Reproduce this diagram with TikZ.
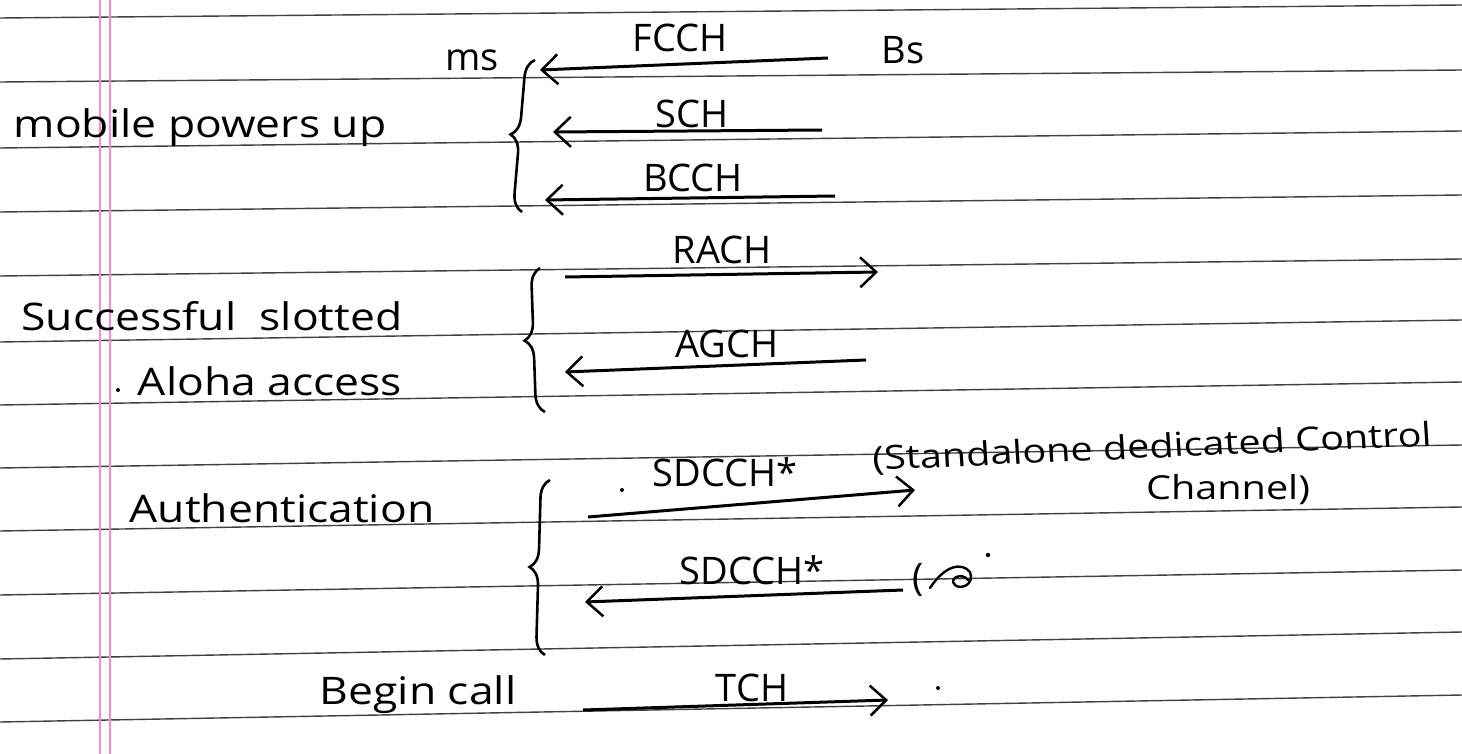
\documentclass[tikz,border=0pt]{standalone}
\usepackage{fontspec}
\setmainfont{Open Sans}
\usetikzlibrary{arrows.meta,decorations.pathreplacing}
\begin{document}
\begin{tikzpicture}[x=1pt,y=-1pt,
  hand/.style={inner sep=0pt, font=\fontsize{38}{42}\selectfont},
  wide/.style={inner sep=0pt, font=\fontsize{38}{42}\selectfont, xscale=1.17},
  small/.style={inner sep=0pt, font=\fontsize{33}{36}\selectfont, xscale=1.2},
  rule/.style={black!75, line width=1.4pt},
  margin/.style={magenta!45, line width=1.3pt},
  sig/.style={line width=3pt, -{Straight Barb[length=16pt,width=30pt,line width=2.5pt]}},
  pen/.style={line width=2.4pt, line cap=round},
  brc/.style={line width=2.6pt, decorate, decoration={brace, amplitude=18pt}}]
\useasboundingbox (0,0) rectangle (1462,754);
\fill[white] (0,0) rectangle (1462,754);
% notebook ruling
\foreach \l/\r in {18/5,82/70,148/131,212/195,276/259,342/320,405/382,468/445,531/507,595/570,659/632,722/695}
  \draw[rule] (0,\l) -- (1462,\r);
\draw[margin] (100,0) -- (100,754);
\draw[margin] (110,0) -- (110,754);
% labels
\node[hand] (ms) at (472,60) {ms};
\node[hand] (bs) at (903,50) {Bs};
\node[hand] (fcch) at (680,38) {FCCH};
\node[hand] (sch) at (692,114) {SCH};
\node[hand] (bcch) at (693,178) {BCCH};
\node[hand] (rach) at (722,250) {RACH};
\node[hand] (agch) at (727,344) {AGCH};
\node[hand] (sd1) at (725,472) {SDCCH*};
\node[hand] (sd2) at (752,570) {SDCCH*};
\node[hand] (tch) at (752,688) {TCH};
\node[wide] (mob) at (200,128) {mobile powers up};
\node[wide] (succ) at (212,316) {Successful\ \ slotted};
\node[wide] (aloha) at (270,381) {Aloha access};
\node[wide] (auth) at (282,508) {Authentication};
\node[wide] (begin) at (418,695) {Begin call};
\node[small, rotate=3] (sacc) at (1152,448) {(Standalone dedicated Control};
\node[small] (chan) at (1228,490) {Channel)};
\node[hand] (par) at (918,580) {(};
% crossed-out letter
\draw[pen] (930,588) .. controls (945,565) and (962,562) .. (970,572)
           .. controls (975,585) and (960,590) .. (955,585)
           .. controls (948,578) and (962,572) .. (968,580);
\fill (988,555) circle (2.2pt);
% stray pen dots
\fill (622,490) circle (2pt);
\fill (118,390) circle (2pt);
\fill (938,688) circle (2pt);
% signal arrows
\coordinate (f1) at (828,58);  \coordinate (f2) at (540,70);
\coordinate (s1) at (822,130); \coordinate (s2) at (553,132);
\coordinate (b1) at (835,196); \coordinate (b2) at (545,200);
\coordinate (r1) at (565,277); \coordinate (r2) at (878,272);
\coordinate (a1) at (866,360); \coordinate (a2) at (565,372);
\coordinate (d1) at (588,517); \coordinate (d2) at (915,490);
\coordinate (e1) at (903,590); \coordinate (e2) at (585,602);
\coordinate (t1) at (583,710); \coordinate (t2) at (888,700);
\draw[sig] (f1) -- (f2);
\draw[sig] (s1) -- (s2);
\draw[sig] (b1) -- (b2);
\draw[sig] (r1) -- (r2);
\draw[sig] (a1) -- (a2);
\draw[sig] (d1) -- (d2);
\draw[sig] (e1) -- (e2);
\draw[sig] (t1) -- (t2);
% braces
\coordinate (k1t) at (535,60);  \coordinate (k1b) at (522,212);
\coordinate (k2t) at (540,268); \coordinate (k2b) at (545,412);
\coordinate (k3t) at (550,480); \coordinate (k3b) at (545,655);
\draw[brc] (k1b) -- (k1t);
\draw[brc] (k2b) -- (k2t);
\draw[brc] (k3b) -- (k3t);
\end{tikzpicture}
\end{document}
